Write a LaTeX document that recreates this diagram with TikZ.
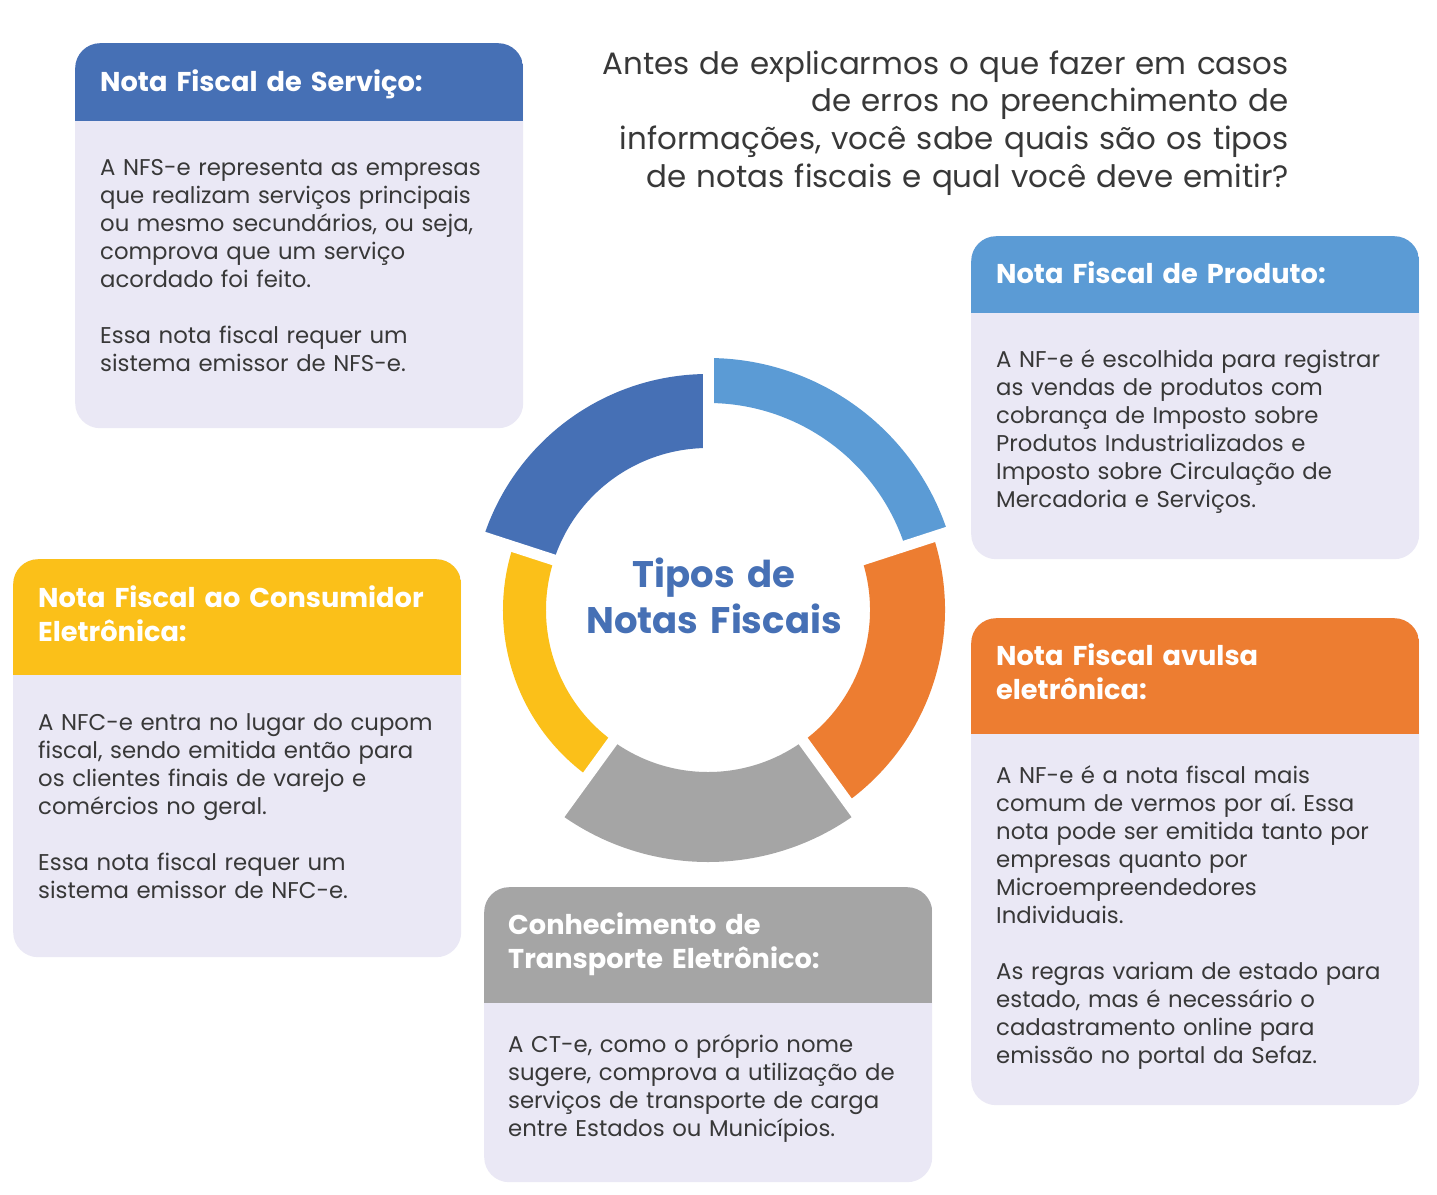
\documentclass[tikz,border=0pt]{standalone}
\usepackage{fontspec}
\setmainfont{Poppins}
\usepackage{tikz}
\frenchspacing
\definecolor{servblue}{HTML}{4670B5}
\definecolor{prodblue}{HTML}{5B9BD5}
\definecolor{consyellow}{HTML}{FBC019}
\definecolor{avulorange}{HTML}{ED7D31}
\definecolor{transgray}{HTML}{A5A5A5}
\definecolor{notefill}{HTML}{EAE8F5}
\definecolor{notetext}{HTML}{383838}
\tikzset{
    notebox/.style 2 args={rectangle, rounded corners=25pt, fill=notefill, draw=none, inner sep=0pt, anchor=north west, minimum width=448pt,
        path picture={\fill[#1, sharp corners] (path picture bounding box.north west) rectangle ([yshift=-#2]path picture bounding box.north east);}}
}
\tikzset{
    notetitle/.style={inner sep=0pt, anchor=base west, text width=415pt, align=left, text=white, font=\bfseries\fontsize{27.2pt}{34pt}\selectfont},
    notebody/.style={inner sep=0pt, anchor=base west, text width=415pt, align=left, text=notetext, font=\fontsize{22.8pt}{28pt}\selectfont}
}

\begin{document}
\begin{tikzpicture}[x=1pt, y=-1pt]
    \fill[white] (0, 0) rectangle (1437, 1194);
    \useasboundingbox (0, 0) rectangle (1437, 1194);

    \node (intro) [inner sep=0pt, anchor=base east, text width=720pt, align=right, text=notetext, font=\fontsize{30.9pt}{37.7pt}\selectfont] at (1289, 74)
        {Antes de explicarmos o que fazer em casos\\ de erros no preenchimento de\\ informações, você sabe quais são os tipos\\ de notas fiscais e qual você deve emitir?};

    \node (servico) [notebox={servblue}{78pt}, minimum height=385pt] at (75, 43) {};
    \node (produto) [notebox={prodblue}{77pt}, minimum height=323pt] at (971, 236) {};
    \node (consumidor) [notebox={consyellow}{116pt}, minimum height=398pt] at (13, 559) {};
    \node (avulsa) [notebox={avulorange}{116pt}, minimum height=487pt] at (971, 618) {};
    \node (transporte) [notebox={transgray}{116pt}, minimum height=295pt] at (484, 887) {};

    \node (servico title) [notetitle] at (100, 91) {Nota Fiscal de Serviço:};
    \node (produto title) [notetitle] at (996, 283) {Nota Fiscal de Produto:};
    \node (consumidor title) [notetitle] at (38, 607) {Nota Fiscal ao Consumidor\\ Eletrônica:};
    \node (avulsa title) [notetitle] at (996, 665) {Nota Fiscal avulsa\\ eletrônica:};
    \node (transporte title) [notetitle] at (508, 934) {Conhecimento de\\ Transporte Eletrônico:};

    \node (servico text) [notebody] at (100, 175) {A NFS-e representa as empresas\\ que realizam serviços principais\\ ou mesmo secundários, ou seja,\\ comprova que um serviço\\ acordado foi feito.\\[28pt] Essa nota fiscal requer um\\ sistema emissor de NFS-e.};
    \node (produto text) [notebody] at (996, 367) {A NF-e é escolhida para registrar\\ as vendas de produtos com\\ cobrança de Imposto sobre\\ Produtos Industrializados e\\ Imposto sobre Circulação de\\ Mercadoria e Serviços.};
    \node (consumidor text) [notebody] at (38, 730) {A NFC-e entra no lugar do cupom\\ fiscal, sendo emitida então para\\ os clientes finais de varejo e\\ comércios no geral.\\[28pt] Essa nota fiscal requer um\\ sistema emissor de NFC-e.};
    \node (avulsa text) [notebody] at (996, 783) {A NF-e é a nota fiscal mais\\ comum de vermos por aí. Essa\\ nota pode ser emitida tanto por\\ empresas quanto por\\ Microempreendedores\\ Individuais.\\[28pt] As regras variam de estado para\\ estado, mas é necessário o\\ cadastramento online para\\ emissão no portal da Sefaz.};
    \node (transporte text) [notebody] at (508, 1052) {A CT-e, como o próprio nome\\ sugere, comprova a utilização de\\ serviços de transporte de carga\\ entre Estados ou Municípios.};

    \begin{scope}[shift={(708, 610)}, x=1pt, y=1pt]
        \fill[servblue] (90:162) arc[start angle=90, end angle=162, radius=162] -- (162:236) arc[start angle=162, end angle=90, radius=236] -- cycle;
        \fill[prodblue] (18:207) arc[start angle=18, end angle=90, radius=207] -- (90:252) arc[start angle=90, end angle=18, radius=252] -- cycle;
        \fill[avulorange] (-54:162) arc[start angle=-54, end angle=18, radius=162] -- (18:237) arc[start angle=18, end angle=-54, radius=237] -- cycle;
        \fill[transgray] (-126:162) arc[start angle=-126, end angle=-54, radius=162] -- (-54:252) arc[start angle=-54, end angle=-126, radius=252] -- cycle;
        \fill[consyellow] (162:162) arc[start angle=162, end angle=234, radius=162] -- (234:205) arc[start angle=234, end angle=162, radius=205] -- cycle;
        \foreach \a in {90, 18, -54, -126, 162}
            \draw[white, line width=11pt] (0, 0) -- (\a:258);
    \end{scope}

    \node (tipos) [inner sep=0pt, anchor=base, text width=320pt, align=center, text=servblue, font=\bfseries\fontsize{37pt}{46pt}\selectfont] at (714, 587) {Tipos de\\ Notas Fiscais};
\end{tikzpicture}
\end{document}
